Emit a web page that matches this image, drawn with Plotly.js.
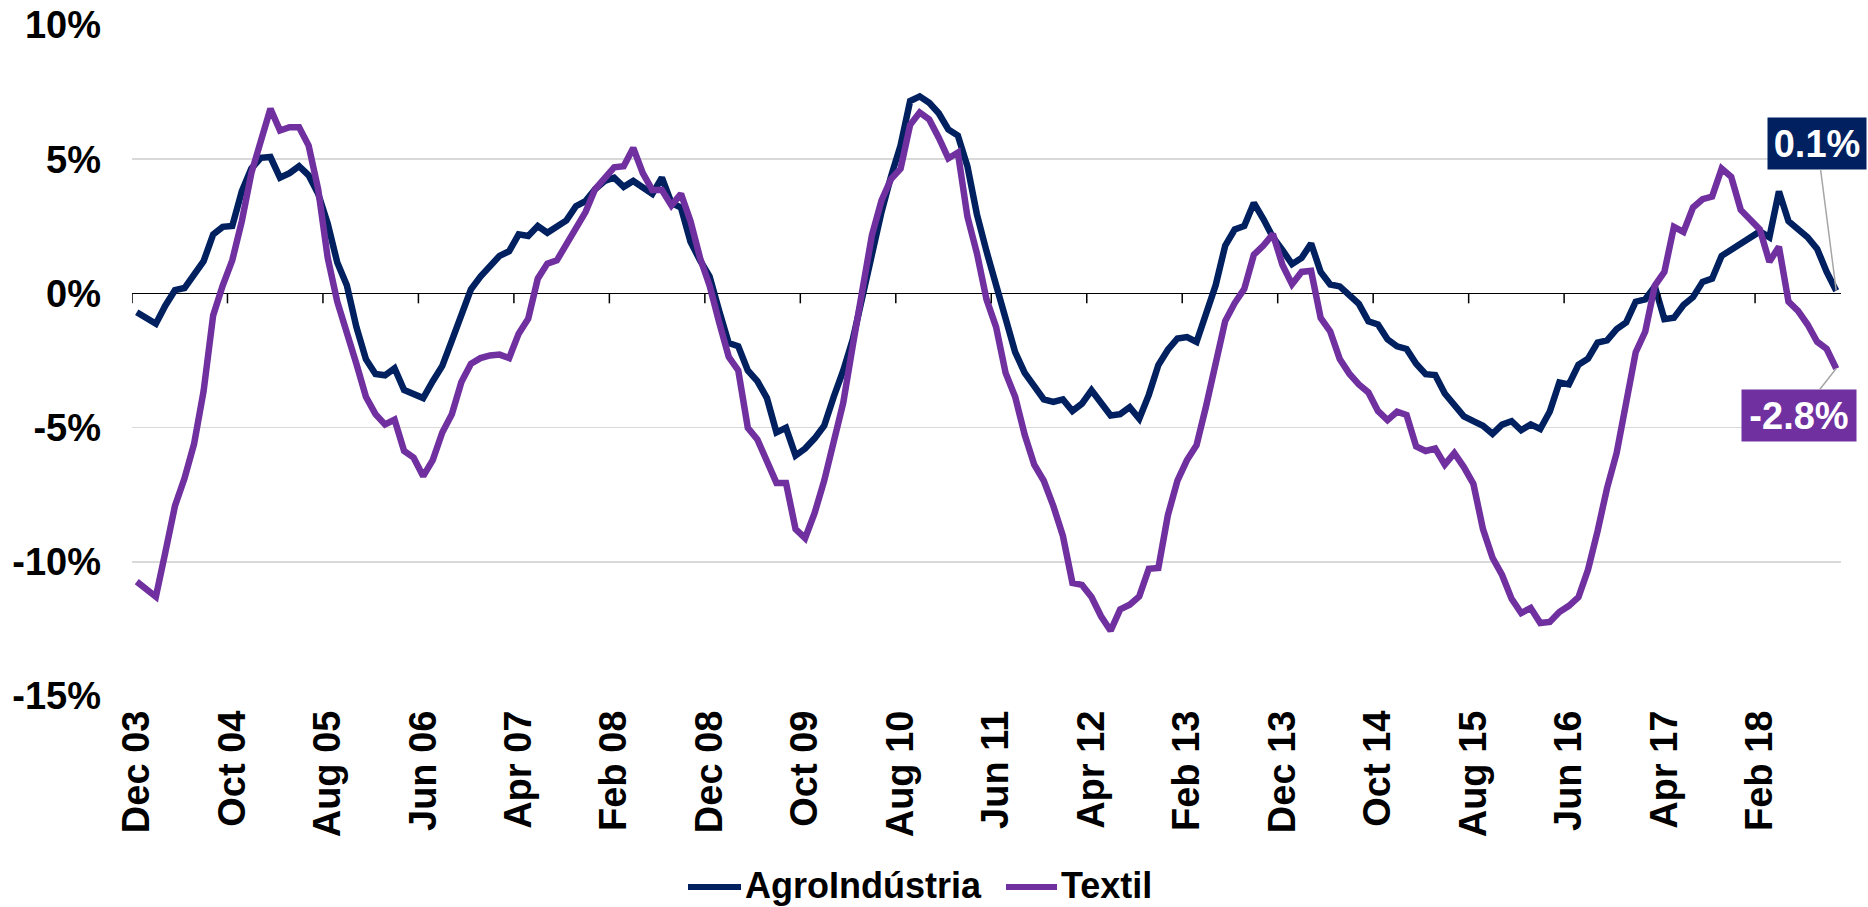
<!DOCTYPE html>
<html>
<head>
<meta charset="utf-8">
<script src="https://cdn.plot.ly/plotly-3.0.1.min.js"></script>
<style>
html,body{margin:0;padding:0;background:#fff;}
#chart{width:1868px;height:907px;}
</style>
</head>
<body>
<div id="chart"></div>
<script>
// Months from Dec 03 to Oct 18 (179 monthly categories)
const monthNames = ['Jan','Feb','Mar','Apr','May','Jun','Jul','Aug','Sep','Oct','Nov','Dec'];
const months = [];
for (let k = 0; k < 179; k++) {
  const mi = (11 + k) % 12;
  const yr = 3 + Math.floor((11 + k) / 12);
  months.push(monthNames[mi] + ' ' + String(yr).padStart(2, '0'));
}

const tickLabels = ['Dec 03','Oct 04','Aug 05','Jun 06','Apr 07','Feb 08','Dec 08','Oct 09','Aug 10',
  'Jun 11','Apr 12','Feb 13','Dec 13','Oct 14','Aug 15','Jun 16','Apr 17','Feb 18'];

const seriesNames = ['AgroIndústria', 'Textil'];

const agroIndustria = [
  -0.70,-0.90,-1.13,-0.45,0.12,0.20,0.67,1.20,2.20,2.48,
  2.51,3.80,4.65,5.05,5.08,4.31,4.48,4.74,4.40,3.71,
  2.60,1.15,0.30,-1.25,-2.45,-3.00,-3.05,-2.79,-3.60,-3.73,
  -3.90,-3.27,-2.70,-1.76,-0.74,0.15,0.63,1.06,1.40,1.57,
  2.20,2.14,2.51,2.26,2.51,2.72,3.25,3.44,3.88,4.19,
  4.31,3.97,4.19,3.92,3.71,4.31,3.37,3.20,1.92,1.23,
  0.63,-0.65,-1.85,-1.97,-2.87,-3.27,-3.90,-5.18,-5.01,-6.04,
  -5.78,-5.40,-4.93,-3.85,-2.87,-1.71,-0.05,1.57,3.03,4.36,
  5.51,7.17,7.34,7.10,6.71,6.11,5.88,4.74,2.94,1.57,
  0.38,-0.91,-2.19,-2.96,-3.42,-3.95,-4.04,-3.95,-4.38,-4.11,
  -3.61,-4.04,-4.55,-4.50,-4.24,-4.67,-3.78,-2.67,-2.10,-1.68,
  -1.63,-1.81,-0.80,0.30,1.78,2.38,2.51,3.37,2.77,2.09,
  1.61,1.09,1.32,1.86,0.80,0.33,0.26,-0.05,-0.39,-1.04,
  -1.16,-1.71,-1.97,-2.07,-2.62,-3.01,-3.04,-3.73,-4.16,-4.58,
  -4.76,-4.93,-5.23,-4.89,-4.76,-5.10,-4.88,-5.05,-4.40,-3.32,
  -3.39,-2.66,-2.43,-1.83,-1.75,-1.33,-1.08,-0.31,-0.22,0.26,
  -0.96,-0.91,-0.43,-0.14,0.43,0.55,1.40,1.63,1.83,2.04,
  2.31,2.09,3.80,2.69,2.41,2.09,1.66,0.80,0.10
];

const textil = [
  -10.74,-11.03,-11.30,-9.63,-7.92,-6.89,-5.61,-3.64,-0.82,0.29,
  1.23,2.69,4.48,5.68,6.88,6.07,6.19,6.19,5.51,3.88,
  1.32,-0.31,-1.42,-2.62,-3.85,-4.50,-4.88,-4.70,-5.87,-6.12,
  -6.81,-6.21,-5.18,-4.50,-3.30,-2.62,-2.41,-2.31,-2.28,-2.41,
  -1.50,-0.94,0.55,1.11,1.23,1.83,2.43,3.03,3.88,4.31,
  4.70,4.74,5.42,4.48,3.85,3.85,3.28,3.71,2.69,1.32,
  0.29,-1.08,-2.36,-2.87,-5.01,-5.44,-6.21,-7.06,-7.06,-8.78,
  -9.12,-8.18,-6.98,-5.56,-4.07,-1.93,0.29,2.17,3.46,4.26,
  4.65,6.28,6.74,6.48,5.80,5.03,5.25,2.86,1.49,-0.22,
  -1.25,-2.96,-3.85,-5.27,-6.38,-6.98,-7.92,-9.03,-10.79,-10.86,
  -11.31,-12.03,-12.57,-11.77,-11.60,-11.29,-10.26,-10.23,-8.26,-6.98,
  -6.21,-5.66,-4.20,-2.50,-1.03,-0.36,0.17,1.44,1.78,2.21,
  1.06,0.34,0.80,0.84,-0.91,-1.42,-2.45,-2.99,-3.39,-3.69,
  -4.38,-4.72,-4.41,-4.53,-5.70,-5.87,-5.78,-6.38,-5.95,-6.47,
  -7.10,-8.78,-9.85,-10.49,-11.38,-11.91,-11.72,-12.28,-12.24,-11.87,
  -11.64,-11.32,-10.30,-8.86,-7.25,-5.95,-3.99,-2.19,-1.42,0.29,
  0.80,2.48,2.29,3.20,3.51,3.61,4.65,4.34,3.11,2.75,
  2.38,1.18,1.74,-0.31,-0.65,-1.16,-1.80,-2.07,-2.80
];

const yTickVals = [-15, -10, -5, 0, 5, 10];
const yTickText = ['-15%', '-10%', '-5%', '0%', '5%', '10%'];

const NAVY = '#002060';
const PURPLE = '#7030A0';
const FONT = 'Liberation Sans, Arial, sans-serif';
const LW = 6.5;

const traces = [
  {x: months, y: agroIndustria, type: 'scatter', mode: 'lines', name: seriesNames[0],
   line: {color: NAVY, width: LW}},
  {x: months, y: textil, type: 'scatter', mode: 'lines', name: seriesNames[1],
   line: {color: PURPLE, width: LW}}
];

// plot area in pixels (for paper-referenced legend placement)
const W = 1868, H = 907, ML = 132, MR = 27, MT = 25, MB = 211;
const PW = W - ML - MR, PH = H - MT - MB;
const px = v => (v - ML) / PW;
const py = v => (H - MB - v) / PH;

const shapes = [];
for (let k = 0; k < tickLabels.length; k++) {
  const xb = months.indexOf(tickLabels[k]) - 0.5;
  shapes.push({type: 'line', xref: 'x', yref: 'y', x0: xb, x1: xb, y0: 0, y1: -0.37,
    line: {color: '#000', width: 1.5}, layer: 'above'});
}

// manual legend (line samples)
const legendY = 885;
shapes.push({type: 'line', xref: 'paper', yref: 'paper', x0: px(688), x1: px(741), y0: py(legendY + 2), y1: py(legendY + 2),
  line: {color: NAVY, width: 6}});
shapes.push({type: 'line', xref: 'paper', yref: 'paper', x0: px(1006), x1: px(1057), y0: py(legendY + 2), y1: py(legendY + 2),
  line: {color: PURPLE, width: 6}});

const lastIdx = months.length - 1;
const annotations = [
  {x: months[lastIdx], y: agroIndustria[lastIdx], xref: 'x', yref: 'y',
   text: '<b>' + agroIndustria[lastIdx].toFixed(1) + '%</b>',
   font: {family: FONT, size: 38, color: '#fff'},
   bgcolor: NAVY, width: 92, height: 45, borderpad: 3, showarrow: true, arrowhead: 0, arrowwidth: 1.5,
   arrowcolor: '#A6A6A6', ax: -19, ay: -147, standoff: 0},
  {x: months[lastIdx], y: textil[lastIdx], xref: 'x', yref: 'y',
   text: '<b>' + textil[lastIdx].toFixed(1) + '%</b>',
   font: {family: FONT, size: 38, color: '#fff'},
   bgcolor: PURPLE, width: 108, height: 45, borderpad: 3, showarrow: true, arrowhead: 0, arrowwidth: 1.5,
   arrowcolor: '#A6A6A6', ax: -37, ay: 47, standoff: 0},
  {xref: 'paper', yref: 'paper', x: px(744), y: py(legendY), xanchor: 'left', yanchor: 'middle',
   text: '<b>' + seriesNames[0] + '</b>', showarrow: false, borderpad: 0,
   font: {family: FONT, size: 36, color: '#000'}},
  {xref: 'paper', yref: 'paper', x: px(1060), y: py(legendY), xanchor: 'left', yanchor: 'middle',
   text: '<b>' + seriesNames[1] + '</b>', showarrow: false, borderpad: 0,
   font: {family: FONT, size: 36, color: '#000'}}
];

const layout = {
  width: W, height: H,
  margin: {l: ML, r: MR, t: MT, b: MB, pad: 0},
  paper_bgcolor: '#fff', plot_bgcolor: '#fff',
  showlegend: false,
  xaxis: {type: 'category', range: [-0.5, lastIdx + 0.5], tickvals: tickLabels, ticktext: tickLabels,
    tickangle: -90, ticks: '', showgrid: false, showline: false, zeroline: false, automargin: false,
    ticklabelstandoff: 6,
    tickfont: {family: FONT, size: 38, color: '#000', weight: 'bold'}, fixedrange: true},
  yaxis: {range: [-15, 10], tickvals: yTickVals, ticktext: yTickText, ticks: '', automargin: false,
    showgrid: true, gridcolor: '#D9D9D9', gridwidth: 1.5,
    zeroline: true, zerolinecolor: '#000', zerolinewidth: 1.5, showline: false,
    ticklabelstandoff: 30,
    tickfont: {family: FONT, size: 38, color: '#000', weight: 'bold'}, fixedrange: true},
  shapes: shapes,
  annotations: annotations
};

Plotly.newPlot('chart', traces, layout, {displayModeBar: false, staticPlot: true});
</script>
</body>
</html>
